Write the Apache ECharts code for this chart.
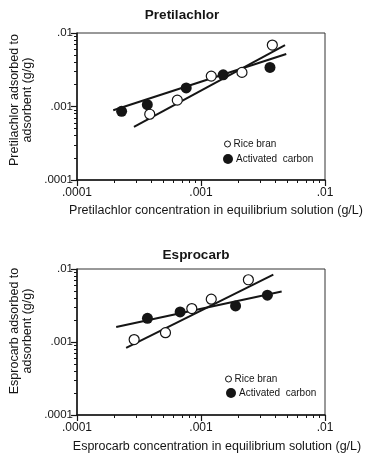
<!DOCTYPE html>
<html>
<head>
<meta charset="utf-8">
<script src="https://cdn.jsdelivr.net/npm/echarts@6/dist/echarts.min.js"></script>
<style>
html, body { margin: 0; padding: 0; background: #fff; }
#chart { width: 367px; height: 454px; }
</style>
</head>
<body>
<div id="chart"></div>
<script>
// Pretilachlor panel (top)
var pretRiceX = [0.000386, 0.000644, 0.00121, 0.00214, 0.00376];
var pretRiceY = [0.000785, 0.00122, 0.00259, 0.00291, 0.00686];
var pretCarbonX = [0.000229, 0.000369, 0.00076, 0.00151, 0.0036];
var pretCarbonY = [0.00086, 0.00106, 0.00179, 0.0027, 0.0034];
var pretRiceFit = [[0.000288, 0.000527], [0.00476, 0.00686]];
var pretCarbonFit = [[0.000196, 0.00089], [0.00487, 0.00517]];

// Esprocarb panel (bottom)
var esprRiceX = [0.000289, 0.000517, 0.000843, 0.00121, 0.00241];
var esprRiceY = [0.00108, 0.00134, 0.00287, 0.00386, 0.00712];
var esprCarbonX = [0.00037, 0.000679, 0.0019, 0.00343];
var esprCarbonY = [0.00211, 0.00258, 0.00312, 0.00438];
var esprRiceFit = [[0.000249, 0.00083], [0.00383, 0.00835]];
var esprCarbonFit = [[0.000207, 0.0016], [0.00447, 0.00492]];

var majorTicks = [0.0001, 0.001, 0.01];
var majorLabels = ['.0001', '.001', '.01'];
var minorTicks = [0.0002, 0.0003, 0.0004, 0.0005, 0.0006, 0.0007, 0.0008, 0.0009,
                  0.002, 0.003, 0.004, 0.005, 0.006, 0.007, 0.008, 0.009];

var FONT = 'Liberation Sans';
var INK = '#151515';

function pairs(xs, ys) {
    return xs.map(function (x, i) { return [x, ys[i]]; });
}

function tickLabel(v) {
    for (var i = 0; i < majorTicks.length; i++) {
        if (Math.abs(v - majorTicks[i]) < majorTicks[i] * 1e-6) return majorLabels[i];
    }
    return '';
}

// position of the short ticks, in decades (only used for the tick axis)
var minorPos = minorTicks.map(function (v) { return Math.log10(v); });

function mainAxis(grid, horizontal) {
    return {
        type: 'log', logBase: 10, gridIndex: grid,
        min: majorTicks[0], max: majorTicks[majorTicks.length - 1],
        axisLine: {show: true, onZero: false, lineStyle: {color: INK, width: 1.5}},
        axisTick: {show: true, length: 6, lineStyle: {color: INK, width: 1.2}},
        axisLabel: {formatter: tickLabel, color: INK, fontSize: horizontal ? 12 : 11.5,
                    fontFamily: FONT, margin: horizontal ? 7 : 4},
        splitLine: {show: false}
    };
}

function minorAxis(grid, pos) {
    return {
        type: 'value', gridIndex: grid, position: pos, min: -4, max: -2,
        axisLine: {show: false, onZero: false},
        axisTick: {show: true, length: 3, customValues: minorPos, lineStyle: {color: INK, width: 1}},
        axisLabel: {show: false},
        splitLine: {show: false}
    };
}

function riceSeries(x, y, data) {
    return {
        name: 'Rice bran', type: 'scatter', xAxisIndex: x, yAxisIndex: y, z: 5,
        symbol: 'circle', symbolSize: 10,
        itemStyle: {color: '#fff', borderColor: INK, borderWidth: 1.2, opacity: 1},
        data: data
    };
}

function carbonSeries(x, y, data) {
    return {
        name: 'Activated  carbon', type: 'scatter', xAxisIndex: x, yAxisIndex: y, z: 5,
        symbol: 'circle', symbolSize: 11,
        itemStyle: {color: INK, opacity: 1},
        data: data
    };
}

function fitSeries(x, y, data) {
    return {
        type: 'line', xAxisIndex: x, yAxisIndex: y, z: 3,
        symbol: 'none', silent: true,
        lineStyle: {color: INK, width: 2},
        data: data
    };
}

function legendItem(name, left, top, size, filled) {
    return {
        left: left, top: top, itemWidth: size, itemHeight: size, padding: 0,
        textStyle: {fontSize: 10, fontFamily: FONT, color: INK, padding: [0, 0, 0, -2]},
        data: [{
            name: name, icon: 'circle',
            itemStyle: filled ? {color: INK, opacity: 1} : {color: '#fff', borderColor: INK, borderWidth: 1}
        }]
    };
}

function label(text, x, y, size, weight, rot) {
    return {
        type: 'text', x: x, y: y, rotation: rot || 0,
        style: {text: text, fill: INK, fontSize: size, fontFamily: FONT, fontWeight: weight || 'normal',
                align: 'center', verticalAlign: 'middle'}
    };
}

var option = {
    backgroundColor: '#fff',
    animation: false,
    grid: [
        {left: 77, top: 33, width: 248, height: 147, show: true, borderColor: '#333', borderWidth: 1},
        {left: 77, top: 269, width: 248, height: 146, show: true, borderColor: '#333', borderWidth: 1}
    ],
    xAxis: [mainAxis(0, true), minorAxis(0, 'bottom'), mainAxis(1, true), minorAxis(1, 'bottom')],
    yAxis: [mainAxis(0, false), minorAxis(0, 'left'), mainAxis(1, false), minorAxis(1, 'left')],
    legend: [
        legendItem('Rice bran', 224, 139, 6, false),
        legendItem('Activated  carbon', 223, 154, 10, true),
        legendItem('Rice bran', 225, 374, 6, false),
        legendItem('Activated  carbon', 226, 388, 10, true)
    ],
    graphic: [
        label('Pretilachlor', 182, 15, 13.5, 'bold'),
        label('Esprocarb', 196, 255, 13.5, 'bold'),
        label('Pretilachlor concentration in equilibrium solution (g/L)', 216, 211, 12.5),
        label('Esprocarb concentration in equilibrium solution (g/L)', 217, 447, 12.5),
        label('Pretilachlor adsorbed to', 15, 100, 12.5, 'normal', Math.PI / 2),
        label('adsorbent (g/g)', 28, 100, 12.5, 'normal', Math.PI / 2),
        label('Esprocarb adsorbed to', 15, 331, 12.5, 'normal', Math.PI / 2),
        label('adsorbent (g/g)', 28, 331, 12.5, 'normal', Math.PI / 2)
    ],
    series: [
        fitSeries(0, 0, pretRiceFit),
        fitSeries(0, 0, pretCarbonFit),
        riceSeries(0, 0, pairs(pretRiceX, pretRiceY)),
        carbonSeries(0, 0, pairs(pretCarbonX, pretCarbonY)),
        fitSeries(2, 2, esprRiceFit),
        fitSeries(2, 2, esprCarbonFit),
        riceSeries(2, 2, pairs(esprRiceX, esprRiceY)),
        carbonSeries(2, 2, pairs(esprCarbonX, esprCarbonY))
    ]
};

var chart = echarts.init(document.getElementById('chart'));
chart.setOption(option);
</script>
</body>
</html>
